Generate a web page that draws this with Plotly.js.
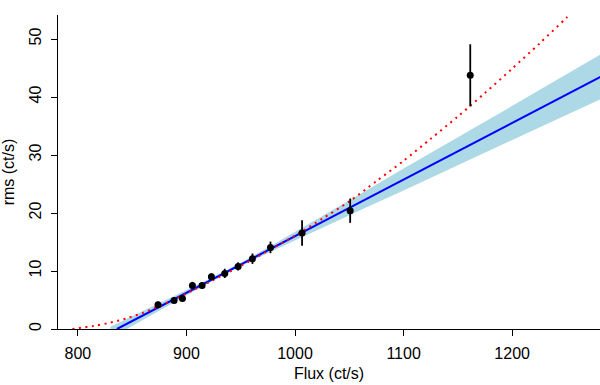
<!DOCTYPE html>
<html>
<head>
<meta charset="utf-8">
<script src="https://cdn.plot.ly/plotly-3.0.1.min.js"></script>
<style>html,body{margin:0;padding:0;background:#fff;}#chart{width:600px;height:385px;}</style>
</head>
<body>
<div id="chart"></div>
<script>
// Observed points
var fluxObs = [873.8, 888.6, 896.3, 905.5, 914.4, 923.0, 935.3, 947.6, 960.8, 977.4, 1006.5, 1050.8, 1161.4];
var rmsObs  = [4.19, 4.93, 5.28, 7.52, 7.52, 9.02, 9.59, 10.79, 12.12, 14.07, 16.55, 20.40, 43.74];
var rmsErr  = [0.5, 0.5, 0.5, 0.6, 0.6, 0.6, 0.8, 0.7, 0.9, 1.0, 2.2, 2.1, 5.35];

// Linear fit (blue) endpoints
var fitX = [836, 1285];
var fitY = [0, 43.82];

// Confidence band (light blue)
var bandX     = [830, 860, 890, 920, 950, 980, 1010, 1040, 1070, 1100, 1130, 1160, 1190, 1220, 1250, 1285];
var bandUpper = [0.40, 3.05, 5.80, 8.55, 11.43, 14.55, 17.78, 21.05, 24.35, 27.66, 30.85, 34.12, 37.38, 40.65, 43.92, 47.72];
var bandLower = [-1.58, 1.63, 4.74, 7.85, 10.83, 13.55, 16.18, 18.77, 21.33, 23.88, 26.53, 29.12, 31.72, 34.31, 36.90, 39.92];

// Red dotted model curve
var curveX = [795, 815, 830, 845, 860, 875, 890, 905, 920, 940, 960, 980, 1000, 1025, 1050, 1075, 1100, 1125, 1150, 1175, 1200, 1225, 1250, 1265];
var curveY = [0, 0.55, 1.1, 1.85, 2.8, 3.95, 5.2, 6.6, 8.0, 9.9, 11.9, 14.0, 16.1, 19.0, 22.0, 25.5, 29.0, 32.8, 36.65, 40.7, 44.9, 49.2, 53.65, 56.3];

// Axis ticks
var xTicks = [800, 900, 1000, 1100, 1200];
var yTicks = [0, 10, 20, 30, 40, 50];

var traces = [
  {x: bandX, y: bandLower, mode: 'lines', line: {width: 0, color: 'rgba(0,0,0,0)'}, showlegend: false, hoverinfo: 'skip'},
  {x: bandX, y: bandUpper, mode: 'lines', line: {width: 0, color: 'rgba(0,0,0,0)'}, fill: 'tonexty', fillcolor: '#ADD8E6', showlegend: false, hoverinfo: 'skip'},
  {x: fitX, y: fitY, mode: 'lines', line: {color: '#0000FF', width: 2}, showlegend: false},
  {x: curveX, y: curveY, mode: 'lines', line: {color: '#FF0000', width: 2, dash: '2px,4.5px', shape: 'spline', smoothing: 0.8}, showlegend: false},
  {x: fluxObs, y: rmsObs, mode: 'markers', marker: {color: '#000', size: 7},
   error_y: {type: 'data', array: rmsErr, visible: true, color: '#000', thickness: 1.8, width: 0}, showlegend: false}
];

var font = {family: '"Liberation Sans", Arial, Helvetica, sans-serif', size: 16, color: '#000'};

var layout = {
  width: 600, height: 385,
  margin: {l: 58, r: 0, t: 15, b: 56, pad: 0},
  paper_bgcolor: '#fff', plot_bgcolor: '#fff',
  font: font,
  showlegend: false,
  xaxis: {
    range: [781.7, 1280.9], tickvals: xTicks, ticktext: xTicks.map(String),
    showline: true, linecolor: '#000', linewidth: 1,
    ticks: 'outside', ticklen: 6, tickwidth: 1, tickcolor: '#000',
    showgrid: false, zeroline: false, ticklabelstandoff: 4,
    title: {text: 'Flux (ct/s)', font: font, standoff: 6}
  },
  yaxis: {
    range: [0, 54.14], tickvals: yTicks, ticktext: yTicks.map(String), tickangle: -90,
    showline: true, linecolor: '#000', linewidth: 1,
    ticks: 'outside', ticklen: 6, tickwidth: 1, tickcolor: '#000',
    showgrid: false, zeroline: false, ticklabelstandoff: 4,
    title: {text: 'rms (ct/s)', font: font, standoff: 9}
  }
};

Plotly.newPlot('chart', traces, layout, {staticPlot: true, displayModeBar: false});
</script>
</body>
</html>
